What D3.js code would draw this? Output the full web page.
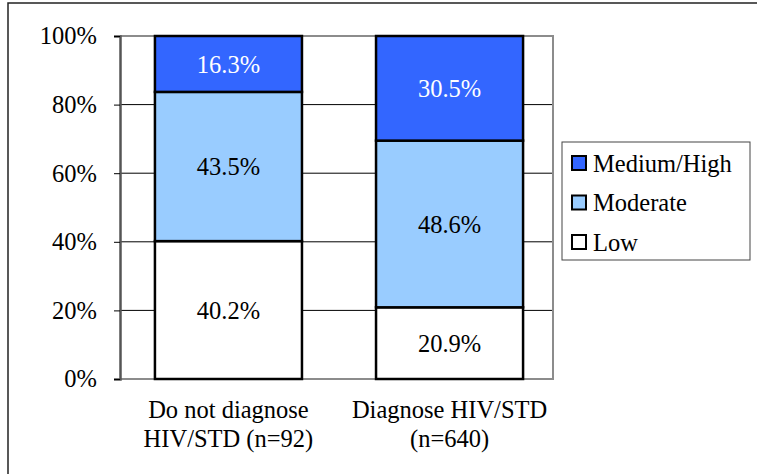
<!DOCTYPE html>
<html>
<head>
<meta charset="utf-8">
<script src="https://cdn.jsdelivr.net/npm/d3@7"></script>
</head>
<body style="margin:0">
<svg id="chart" width="757" height="474" font-family="Liberation Serif"></svg>
<script>
// Risk level distribution by whether the respondent diagnoses HIV/STD
const categories = [["Do not diagnose", "HIV/STD (n=92)"], ["Diagnose HIV/STD", "(n=640)"]];
const seriesNames = ["Low", "Moderate", "Medium/High"];
const lowValues = [40.2, 20.9];
const moderateValues = [43.5, 48.6];
const mediumHighValues = [16.3, 30.5];
const yTicks = [0, 20, 40, 60, 80, 100];
const colors = { "Low": "#ffffff", "Moderate": "#99ccff", "Medium/High": "#3366ff" };
const labelColors = { "Low": "#000", "Moderate": "#000", "Medium/High": "#fff" };
const FONT = '"Liberation Serif", "Times New Roman", serif';
const FS = 24.5;

const rows = categories.map((c, i) => ({
  key: i,
  label: c,
  "Low": lowValues[i],
  "Moderate": moderateValues[i],
  "Medium/High": mediumHighValues[i]
}));

const svg = d3.select("#chart");
const plot = { left: 120, right: 553, top: 36, bottom: 379 };

// outer frame
svg.append("rect").attr("x", 8).attr("y", 3).attr("width", 760).attr("height", 480)
  .attr("fill", "none").attr("stroke", "#222").attr("stroke-width", 1.5);

const x = d3.scaleBand().domain(rows.map(r => r.key))
  .range([plot.left, 558]).paddingInner(0.335).paddingOuter(0.158);
const y = d3.scaleLinear().domain([0, 100]).range([plot.bottom, plot.top]);

// gridlines
svg.append("g").selectAll("line").data(yTicks.filter(t => t > 0 && t < 100)).join("line")
  .attr("x1", plot.left).attr("x2", plot.right)
  .attr("y1", d => y(d)).attr("y2", d => y(d))
  .attr("stroke", "#000").attr("stroke-width", 1);

// plot area border (top/right/bottom)
svg.append("path")
  .attr("d", `M${plot.left},${plot.top}H${plot.right}V${plot.bottom}H${plot.left}`)
  .attr("fill", "none").attr("stroke", "#8c8c8c").attr("stroke-width", 2);

// stacked bars
const stack = d3.stack().keys(seriesNames)(rows);
const layers = svg.append("g").selectAll("g").data(stack).join("g");
layers.selectAll("rect").data(s => s.map(d => ({ key: s.key, d }))).join("rect")
  .attr("x", v => x(v.d.data.key))
  .attr("width", x.bandwidth())
  .attr("y", v => y(v.d[1]))
  .attr("height", v => y(v.d[0]) - y(v.d[1]))
  .attr("fill", v => colors[v.key])
  .attr("stroke", "#000").attr("stroke-width", 2.5);

layers.selectAll("text").data(s => s.map(d => ({ key: s.key, d }))).join("text")
  .attr("x", v => x(v.d.data.key) + x.bandwidth() / 2)
  .attr("y", v => (y(v.d[0]) + y(v.d[1])) / 2)
  .attr("dy", "0.35em")
  .attr("text-anchor", "middle")
  .attr("font-size", FS)
  .style("font-family", FONT)
  .attr("fill", v => labelColors[v.key])
  .text(v => (v.d[1] - v.d[0]).toFixed(1) + "%");

// y axis
const yAxis = svg.append("g").attr("transform", `translate(${plot.left},0)`)
  .call(d3.axisLeft(y).tickValues(yTicks).tickSize(6).tickPadding(17).tickFormat(d => d + "%"));
yAxis.attr("font-family", null).attr("font-size", null);
yAxis.select(".domain").attr("stroke", "#555").attr("stroke-width", 2.5);
yAxis.selectAll(".tick line").attr("stroke", "#000");
yAxis.selectAll(".tick text").attr("font-size", FS).style("font-family", FONT).attr("fill", "#000");

// category labels
const xl = svg.append("g").selectAll("text").data(rows).join("text")
  .attr("x", d => x(d.key) + x.bandwidth() / 2)
  .attr("y", 418)
  .attr("text-anchor", "middle")
  .attr("font-size", FS)
  .style("font-family", FONT)
  .attr("fill", "#000");
xl.selectAll("tspan").data(d => d.label.map((t, i) => ({ t, i, cx: x(d.key) + x.bandwidth() / 2 }))).join("tspan")
  .attr("x", d => d.cx).attr("dy", d => d.i === 0 ? 0 : 29)
  .text(d => d.t);

// legend
const legend = svg.append("g");
legend.append("rect").attr("x", 562).attr("y", 142).attr("width", 188).attr("height", 118)
  .attr("fill", "#fff").attr("stroke", "#444").attr("stroke-width", 1);
const legendItems = seriesNames.slice().reverse();
const li = legend.selectAll("g").data(legendItems).join("g")
  .attr("transform", (d, i) => `translate(572,${163 + i * 39.5})`);
li.append("rect").attr("x", 0).attr("y", -7).attr("width", 14).attr("height", 14)
  .attr("fill", d => colors[d]).attr("stroke", "#000").attr("stroke-width", 2);
li.append("text").attr("x", 21).attr("y", 0).attr("dy", "0.35em")
  .attr("font-size", FS).style("font-family", FONT).attr("fill", "#000").text(d => d);
</script>
</body>
</html>
